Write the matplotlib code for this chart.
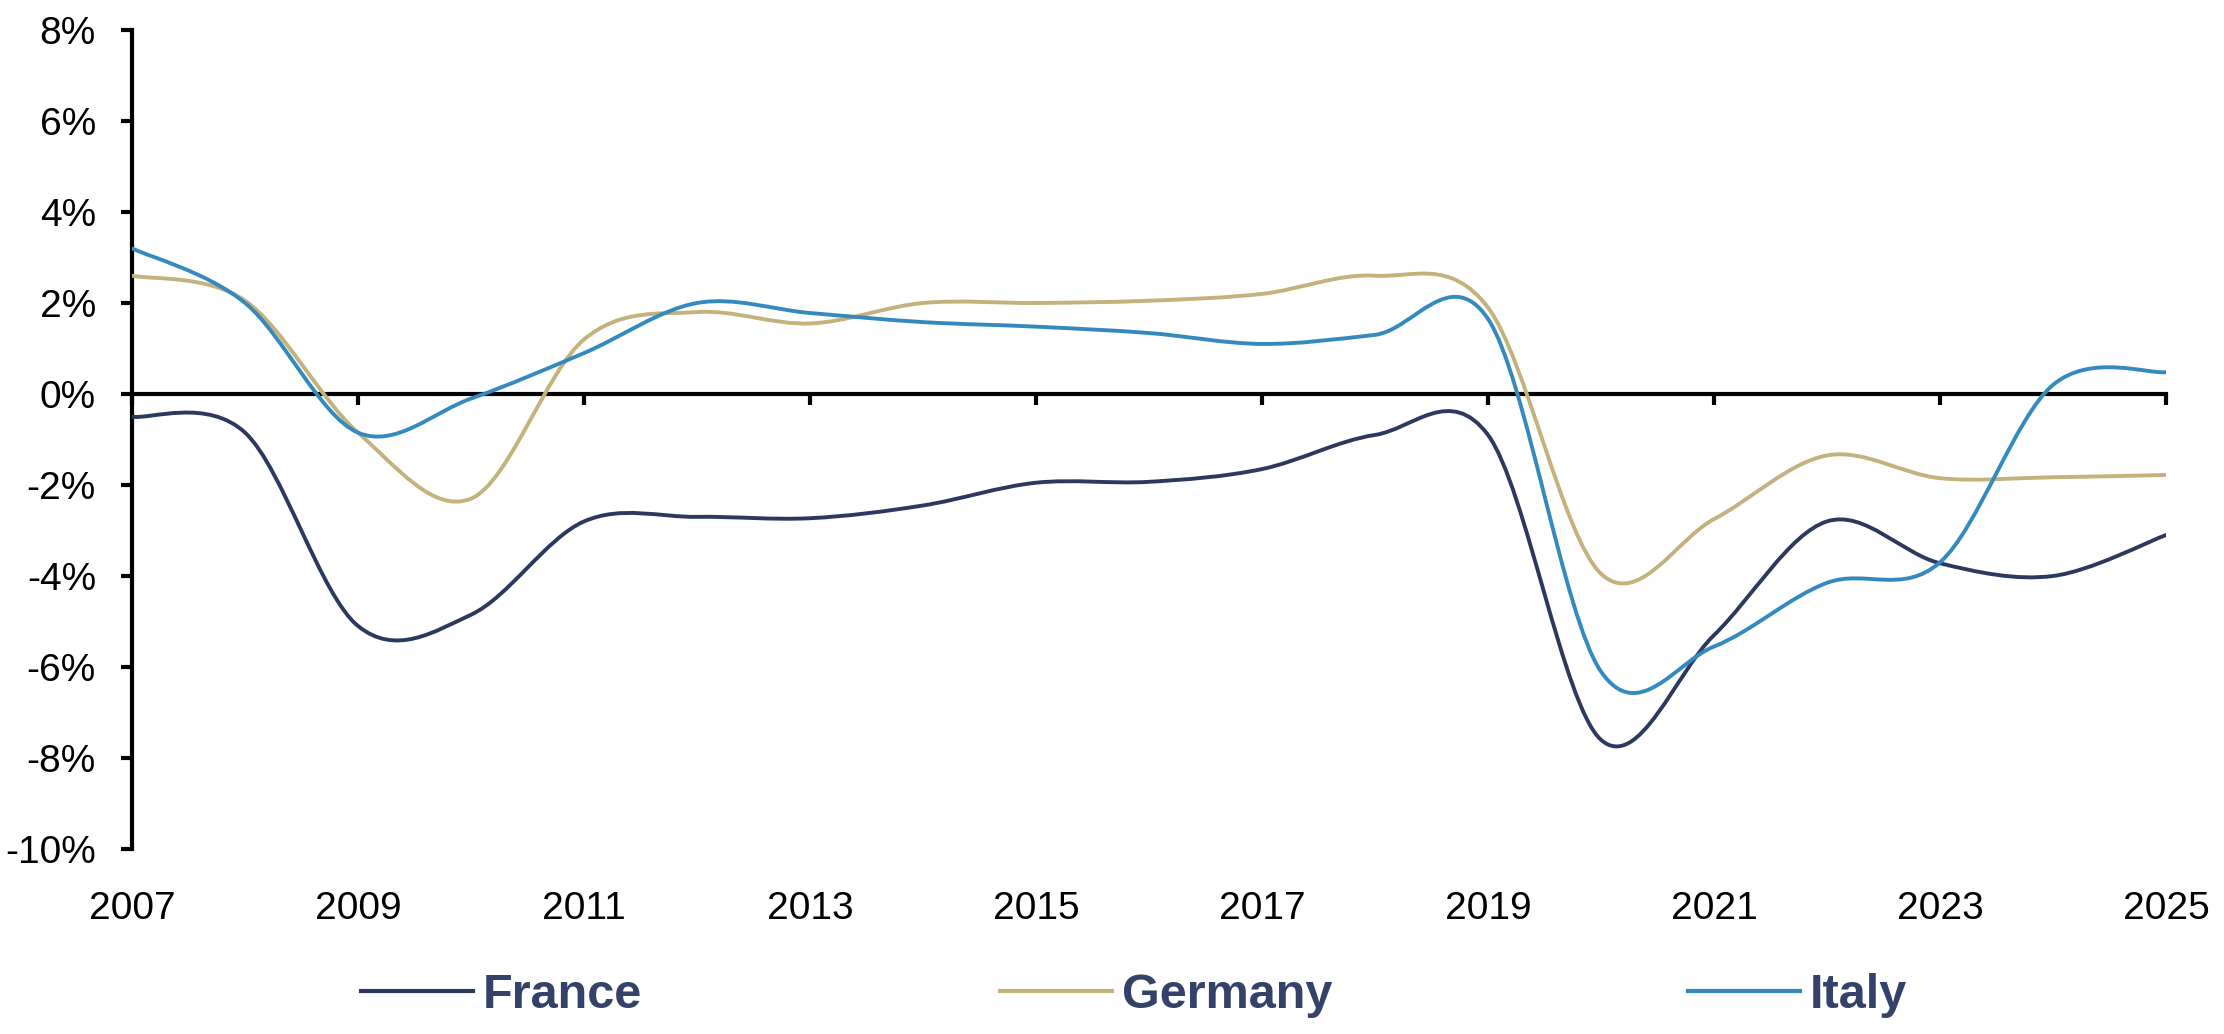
import numpy as np
import matplotlib
matplotlib.use("Agg")
import matplotlib.pyplot as plt
from matplotlib.path import Path
from matplotlib.patches import PathPatch
from matplotlib.lines import Line2D
from matplotlib.ticker import FuncFormatter

plt.rcParams["font.family"] = ["Liberation Sans", "DejaVu Sans"]

# Data (% of GDP)
years = list(range(2007, 2026))
france = [-0.5, -0.85, -5.1, -4.85, -2.8, -2.7, -2.73, -2.45, -1.95, -1.93,
          -1.65, -0.9, -0.9, -7.6, -5.3, -2.8, -3.72, -4.0, -3.1]
germany = [2.6, 2.05, -0.85, -2.3, 1.2, 1.8, 1.55, 2.0, 2.0, 2.05,
           2.2, 2.6, 1.9, -3.95, -2.75, -1.35, -1.85, -1.83, -1.78]
italy = [3.2, 2.0, -0.85, -0.1, 0.9, 2.0, 1.78, 1.58, 1.48, 1.34,
         1.1, 1.3, 1.65, -6.1, -5.55, -4.15, -3.7, 0.2, 0.48]

series = ["France", "Germany", "Italy"]
colors = ["#2C385E", "#C4B27D", "#348ABE"]
text_color = "#344269"
legend_x = [0.1625, 0.4497, 0.7590]


# Excel-style smoothed line: cubic Bezier through each point
def smooth_path(x, y):
    x = np.asarray(x, float)
    y = np.asarray(y, float)
    xp = np.concatenate([[x[0]], x, [x[-1]]])
    yp = np.concatenate([[y[0]], y, [y[-1]]])
    verts = [(x[0], y[0])]
    codes = [Path.MOVETO]
    for i in range(len(x) - 1):
        c1 = (x[i] + (xp[i + 2] - xp[i]) / 6, y[i] + (yp[i + 2] - yp[i]) / 6)
        c2 = (x[i + 1] - (xp[i + 3] - xp[i + 1]) / 6,
              y[i + 1] - (yp[i + 3] - yp[i + 1]) / 6)
        verts += [c1, c2, (x[i + 1], y[i + 1])]
        codes += [Path.CURVE4] * 3
    return Path(verts, codes)


fig = plt.figure(figsize=(22.24, 10.34), dpi=100)
ax = fig.add_axes([0.0594, 0.1789, 0.9145, 0.7921])

for vals, col in zip([france, germany, italy], colors):
    patch = PathPatch(smooth_path(years, vals), facecolor="none", edgecolor=col,
                      lw=2.8, capstyle="round", joinstyle="round",
                      transform=ax.transData, zorder=3)
    ax.add_patch(patch)

ax.set_xlim(2007, 2025)
ax.set_ylim(-10, 8)

# y axis
ax.set_yticks(np.arange(-10, 9, 2))
ax.yaxis.set_major_formatter(FuncFormatter(lambda v, p: f"{v:.0f}%"))
ax.tick_params(axis="y", direction="out", length=8, width=3, pad=18,
               labelsize=28, colors="black")
for s in ["top", "right", "bottom"]:
    ax.spines[s].set_visible(False)
ax.spines["left"].set_linewidth(3)

# x labels at the bottom, no marks there
ax.set_xticks(years[::2])
ax.set_xticklabels([str(y) for y in years[::2]])
ax.tick_params(axis="x", length=0, pad=30, labelsize=28)

# zero line with tick marks
zero_pos = (0 - (-10)) / 18
sec = ax.secondary_xaxis(zero_pos)
sec.set_alignment("bottom")
sec.set_xticks(years[::2])
sec.set_xticklabels([])
sec.tick_params(axis="x", direction="out", length=8, width=3,
                labelbottom=False, labeltop=False)
for s in ["top", "bottom"]:
    sec.spines[s].set_linewidth(3)
    sec.spines[s].set_color("black")

# legend entries spread along the bottom
for name, col, lx in zip(series, colors, legend_x):
    fig.legend([Line2D([], [], color=col, lw=3)], [name], loc="center left",
               bbox_to_anchor=(lx, 0.0368), frameon=False, borderpad=0,
               borderaxespad=0, handlelength=2.3, handletextpad=0.2,
               labelcolor=text_color,
               prop={"family": ["Liberation Sans Narrow", "Liberation Sans"],
                     "weight": "bold", "size": 35})

plt.savefig("out.png", dpi=100)
